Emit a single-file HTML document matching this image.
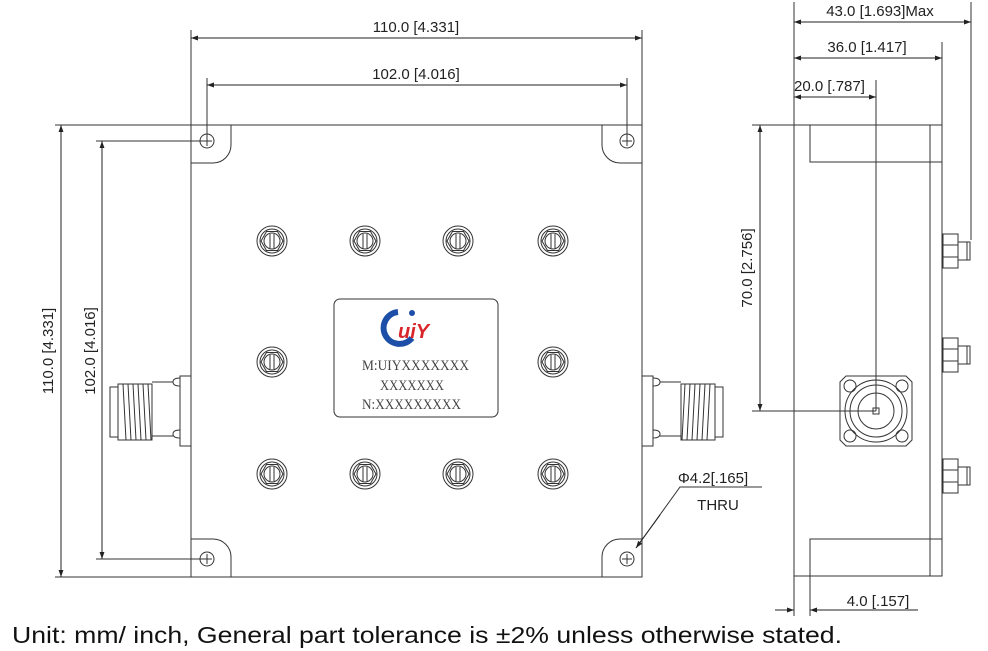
<!DOCTYPE html>
<html><head><meta charset="utf-8"><style>
html,body{margin:0;padding:0;background:#fff;}
svg{display:block;}
text{font-family:"Liberation Sans",Arial,sans-serif;fill:#222;}
</style></head><body>
<svg width="988" height="651" viewBox="0 0 988 651" xmlns="http://www.w3.org/2000/svg">
<defs>
<marker id="a" viewBox="0 0 10 10" refX="10" refY="5" markerWidth="10" markerHeight="7" orient="auto-start-reverse" markerUnits="userSpaceOnUse"><path d="M0,1.5 L10,5 L0,8.5 z" fill="#222"/></marker>
<g id="scr" fill="none" stroke="#333" stroke-width="1">
<circle r="15"/><circle r="12"/>
<polygon points="11,0 5.5,9.5 -5.5,9.5 -11,0 -5.5,-9.5 5.5,-9.5"/>
<circle r="8"/><line x1="-2" y1="-7" x2="-2" y2="7"/><line x1="2" y1="-7" x2="2" y2="7"/>
</g>
<g id="hole" fill="none" stroke="#333" stroke-width="1"><circle r="7"/><line x1="-5" y1="0" x2="5" y2="0"/><line x1="0" y1="-5" x2="0" y2="5"/></g>
<g id="nut" fill="none" stroke="#333" stroke-width="1">
<rect x="0" y="-17" width="15" height="34"/><line x1="0" y1="-6" x2="15" y2="-6"/><line x1="0" y1="6" x2="15" y2="6"/>
<rect x="15" y="-9" width="12" height="18"/><line x1="24" y1="-9" x2="24" y2="9"/>
</g>
<g id="conn" fill="none" stroke="#333" stroke-width="1">
<rect x="0" y="-35" width="11" height="70"/>
<path d="M0,-25 q-7,0 -7,-4 q0,-4 7,-4"/><path d="M0,27 q-7,0 -7,-4 q0,-4 7,-4"/>
<line x1="-7" y1="-29" x2="-28" y2="-29"/><line x1="-7" y1="25" x2="-28" y2="25"/>
<rect x="-62" y="-27" width="34" height="56"/>
<rect x="-70" y="-24" width="8" height="50"/>
<path d="M-57,-27 l3,56 M-52,-27 l3,56 M-47,-27 l3,56 M-42,-27 l3,56 M-37,-27 l3,56 M-32,-27 l3,56"/>
</g>
</defs>
<g stroke="#333" stroke-width="1" fill="none">
<!-- main body -->
<rect x="191" y="125" width="451" height="452"/>
<path d="M191,163 H213 A18,18 0 0 0 231,145 V125"/>
<path d="M642,163 H620 A18,18 0 0 1 602,145 V125"/>
<path d="M191,539 H213 A18,18 0 0 1 231,557 V577"/>
<path d="M642,539 H620 A18,18 0 0 0 602,557 V577"/>
<rect x="334" y="299" width="164" height="118" rx="6"/>
<!-- extension lines -->
<line x1="191" y1="30" x2="191" y2="125"/><line x1="642" y1="30" x2="642" y2="125"/>
<line x1="207" y1="78" x2="207" y2="141"/><line x1="627" y1="78" x2="627" y2="141"/>
<line x1="55" y1="125" x2="191" y2="125"/><line x1="55" y1="577" x2="191" y2="577"/>
<line x1="96" y1="141" x2="207" y2="141"/><line x1="96" y1="559" x2="207" y2="559"/>
<!-- side view -->
<rect x="794" y="125" width="148" height="451"/>
<line x1="930" y1="125" x2="930" y2="576"/>
<path d="M810,125 V162 H942"/><path d="M810,576 V539 H942"/>
<line x1="794" y1="2" x2="794" y2="125"/><line x1="971" y1="2" x2="971" y2="240"/>
<line x1="942" y1="42" x2="942" y2="125"/>
<line x1="876" y1="80" x2="876" y2="411"/>
<line x1="752" y1="125" x2="794" y2="125"/><line x1="752" y1="411" x2="876" y2="411"/>
<line x1="794" y1="576" x2="794" y2="616"/><line x1="810" y1="576" x2="810" y2="616"/>
<path d="M846,376 H906 L912,382 V440 L906,446 H846 L840,440 V382 Z"/>
<circle cx="876" cy="411" r="31"/><circle cx="876" cy="411" r="26"/><circle cx="876" cy="411" r="18"/>
<rect x="873" y="408" width="6" height="6"/>
<circle cx="850" cy="386" r="6"/><circle cx="902" cy="386" r="6"/><circle cx="850" cy="436" r="6"/><circle cx="902" cy="436" r="6"/>
<!-- leader -->
<path d="M762,487 H680 L636,548"/>
</g>
<g stroke="#222" stroke-width="1">
<line x1="191" y1="38" x2="642" y2="38" marker-start="url(#a)" marker-end="url(#a)"/>
<line x1="207" y1="85" x2="627" y2="85" marker-start="url(#a)" marker-end="url(#a)"/>
<line x1="61" y1="125" x2="61" y2="577" marker-start="url(#a)" marker-end="url(#a)"/>
<line x1="102" y1="141" x2="102" y2="559" marker-start="url(#a)" marker-end="url(#a)"/>
<line x1="794" y1="22" x2="971" y2="22" marker-start="url(#a)" marker-end="url(#a)"/>
<line x1="794" y1="58" x2="942" y2="58" marker-start="url(#a)" marker-end="url(#a)"/>
<line x1="794" y1="97" x2="876" y2="97" marker-start="url(#a)" marker-end="url(#a)"/>
<line x1="760" y1="125" x2="760" y2="411" marker-start="url(#a)" marker-end="url(#a)"/>
<line x1="775" y1="610" x2="794" y2="610" marker-end="url(#a)"/>
<line x1="830" y1="610" x2="810" y2="610" marker-end="url(#a)"/>
<line x1="810" y1="610" x2="918" y2="610"/>
<line x1="660" y1="515" x2="636" y2="548" marker-end="url(#a)"/>
</g>
<use href="#hole" x="207" y="141"/><use href="#hole" x="627" y="141"/><use href="#hole" x="207" y="559"/><use href="#hole" x="627" y="559"/>
<use href="#scr" x="272" y="241"/><use href="#scr" x="365" y="241"/><use href="#scr" x="458" y="241"/><use href="#scr" x="553" y="241"/>
<use href="#scr" x="272" y="362"/><use href="#scr" x="553" y="362"/>
<use href="#scr" x="272" y="474"/><use href="#scr" x="365" y="474"/><use href="#scr" x="458" y="474"/><use href="#scr" x="553" y="474"/>
<use href="#conn" x="180" y="411"/>
<use href="#conn" transform="translate(642,411) scale(-1,1)" x="-11"/>
<use href="#nut" x="943" y="251"/><use href="#nut" x="943" y="355"/><use href="#nut" x="943" y="476"/>
<!-- logo -->
<g>
<path d="M398,312 A16,16 0 1 0 412,338" fill="none" stroke="#1e4fa8" stroke-width="6"/>
<text x="398" y="338" font-size="20" font-weight="bold" font-style="italic" style="fill:#d9262b">uiY</text>
<circle cx="412" cy="313" r="3" fill="#1e4fa8"/>
</g>
<g font-size="15">
<text x="362" y="370" style="font-family:'Liberation Serif',serif;fill:#444" textLength="107" lengthAdjust="spacingAndGlyphs">M:UIYXXXXXXX</text>
<text x="380" y="390" style="font-family:'Liberation Serif',serif;fill:#444" textLength="64" lengthAdjust="spacingAndGlyphs">XXXXXXX</text>
<text x="362" y="409" style="font-family:'Liberation Serif',serif;fill:#444" textLength="99" lengthAdjust="spacingAndGlyphs">N:XXXXXXXXX</text>
</g>
<g font-size="15">
<text x="416" y="32" text-anchor="middle">110.0 [4.331]</text>
<text x="416" y="79" text-anchor="middle">102.0 [4.016]</text>
<text transform="translate(53,351) rotate(-90)" text-anchor="middle">110.0 [4.331]</text>
<text transform="translate(95,351) rotate(-90)" text-anchor="middle">102.0 [4.016]</text>
<text transform="translate(752,268) rotate(-90)" text-anchor="middle">70.0 [2.756]</text>
<text x="880" y="16" text-anchor="middle">43.0 [1.693]Max</text>
<text x="867" y="52" text-anchor="middle">36.0 [1.417]</text>
<text x="794" y="91">20.0 [.787]</text>
<text x="878" y="606" text-anchor="middle">4.0 [.157]</text>
<text x="713" y="483" text-anchor="middle">Φ4.2[.165]</text>
<text x="718" y="510" text-anchor="middle">THRU</text>
</g>
<text x="12" y="643" font-size="23" textLength="830" lengthAdjust="spacingAndGlyphs" style="fill:#111">Unit: mm/ inch, General part tolerance is ±2% unless otherwise stated.</text>
</svg>
</body></html>
